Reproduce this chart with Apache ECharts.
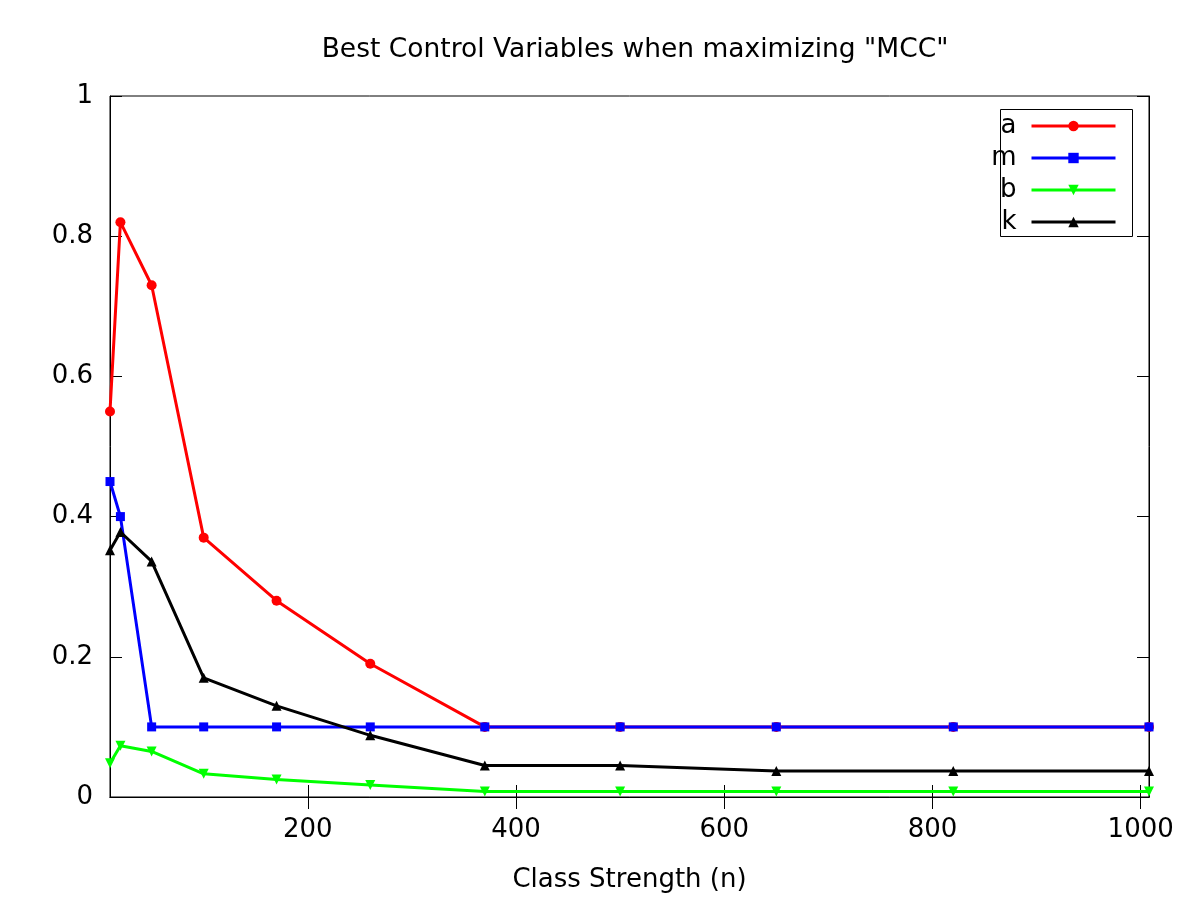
<!DOCTYPE html>
<html>
<head>
<meta charset="utf-8">
<script src="https://cdn.jsdelivr.net/npm/echarts@6/dist/echarts.min.js"></script>
<style>
  html, body { margin: 0; padding: 0; background: #fff; }
  #chart { width: 1200px; height: 900px; }
</style>
</head>
<body>
<div id="chart"></div>
<script>
// class strength (n)
const classStrength = [10, 20, 50, 100, 170, 260, 370, 500, 650, 820, 1008];
const seriesA = [0.55, 0.82, 0.73, 0.37, 0.28, 0.19, 0.10, 0.10, 0.10, 0.10, 0.10];
const seriesM = [0.45, 0.40, 0.10, 0.10, 0.10, 0.10, 0.10, 0.10, 0.10, 0.10, 0.10];
const seriesB = [0.048, 0.073, 0.065, 0.033, 0.025, 0.017, 0.008, 0.008, 0.008, 0.008, 0.008];
const seriesK = [0.352, 0.378, 0.336, 0.17, 0.13, 0.088, 0.045, 0.045, 0.037, 0.037, 0.037];
const xTicks = [200, 400, 600, 800, 1000];

const FONT = 'DejaVu Sans';

function pairs(ys) {
    return ys.map((y, i) => [classStrength[i], y]);
}

function lineSeries(name, ys, color, symbol, rotate) {
    return {
        name: name,
        type: 'line',
        data: pairs(ys),
        symbol: symbol,
        symbolSize: symbol === 'rect' ? 9 : 10,
        symbolRotate: rotate || 0,
        showAllSymbol: true,
        lineStyle: { color: color, width: 3 },
        itemStyle: { color: color },
        emphasis: { disabled: true },
        animation: false
    };
}

const chart = echarts.init(document.getElementById('chart'));
const option = {
    backgroundColor: '#fff',
    animation: false,
    title: {
        text: 'Best Control Variables when maximizing "MCC"',
        left: 630,
        top: 32,
        textAlign: 'center',
        textStyle: { fontFamily: FONT, fontSize: 26.5, fontWeight: 'normal', color: '#000' }
    },
    grid: {
        left: 110, right: 51, top: 96, bottom: 103,
        show: true, borderColor: '#000', borderWidth: 1
    },
    legend: {
        orient: 'vertical',
        right: 83,
        top: 110,
        align: 'right',
        itemWidth: 84,
        itemHeight: 13,
        itemGap: 0,
        padding: 0,
        lineStyle: { width: 3 },
        textStyle: { fontFamily: FONT, fontSize: 26, lineHeight: 32, color: '#000', padding: [0, 10, 0, 0] },
        data: ['a', 'm', 'b', 'k']
    },
    graphic: [{
        type: 'rect',
        shape: { x: 1000.5, y: 109.5, width: 132, height: 127 },
        style: { fill: 'none', stroke: '#000', lineWidth: 1 },
        z: 1
    }],
    xAxis: [{
        type: 'value',
        min: 10,
        max: 1008,
        name: 'Class Strength (n)',
        nameLocation: 'middle',
        nameGap: 70,
        nameTextStyle: { fontFamily: FONT, fontSize: 26, color: '#000' },
        axisLine: { show: true, lineStyle: { color: '#000', width: 1 } },
        axisTick: { show: true, inside: true, length: 12, customValues: xTicks, lineStyle: { color: '#000' } },
        axisLabel: { customValues: xTicks, fontFamily: FONT, fontSize: 26, color: '#000', margin: 20,
            formatter: v => String(v) },
        splitLine: { show: false }
    }, {
        type: 'value',
        position: 'top',
        min: 10,
        max: 1008,
        axisLine: { show: true, lineStyle: { color: '#000' } },
        axisTick: { show: true, inside: true, length: 12, customValues: xTicks, lineStyle: { color: '#000' } },
        axisLabel: { show: false },
        splitLine: { show: false }
    }],
    yAxis: [{
        type: 'value',
        min: 0,
        max: 1,
        interval: 0.2,
        axisLine: { show: true, lineStyle: { color: '#000' } },
        axisTick: { show: true, inside: true, length: 12, lineStyle: { color: '#000' } },
        axisLabel: { fontFamily: FONT, fontSize: 26, color: '#000', margin: 17,
            formatter: v => String(Math.round(v * 10) / 10) },
        splitLine: { show: false }
    }, {
        type: 'value',
        position: 'right',
        min: 0,
        max: 1,
        interval: 0.2,
        axisLine: { show: true, lineStyle: { color: '#000' } },
        axisTick: { show: true, inside: true, length: 12, lineStyle: { color: '#000' } },
        axisLabel: { show: false },
        splitLine: { show: false }
    }],
    series: [
        lineSeries('a', seriesA, '#ff0000', 'circle'),
        lineSeries('m', seriesM, '#0000ff', 'rect'),
        lineSeries('b', seriesB, '#00ff00', 'triangle', 180),
        lineSeries('k', seriesK, '#000000', 'triangle')
    ]
};
chart.setOption(option);
</script>
</body>
</html>
